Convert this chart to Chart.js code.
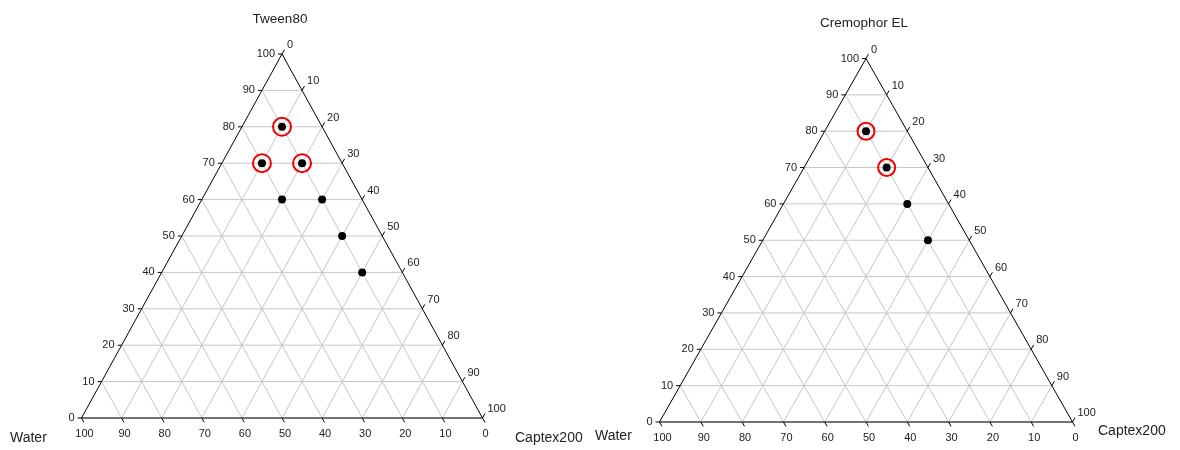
<!DOCTYPE html>
<html>
<head>
<meta charset="utf-8">
<title>Ternary phase diagrams</title>
<script src="https://cdn.jsdelivr.net/npm/chart.js@4.4.1/dist/chart.umd.min.js"></script>
<style>
  html, body { margin: 0; padding: 0; background: #fff; }
  #wrap { position: relative; width: 1180px; height: 450px; }
  canvas { position: absolute; top: 0; }
  #tween-chart { left: 0; }
  #cremophor-chart { left: 590px; }
</style>
</head>
<body>
<div id="wrap">
  <canvas id="tween-chart" width="590" height="450"></canvas>
  <canvas id="cremophor-chart" width="590" height="450"></canvas>
</div>
<script>
// axis ticks (%), same on all three sides
const tickValues = [0, 10, 20, 30, 40, 50, 60, 70, 80, 90, 100];
const gridValues = [10, 20, 30, 40, 50, 60, 70, 80, 90];

// Tween80 / Captex200 / Water (%)
const tweenSurfactant = [80, 70, 70, 60, 60, 50, 40];
const tweenOil        = [10, 10, 20, 20, 30, 40, 50];
const tweenWater      = [10, 20, 10, 20, 10, 10, 10];
const tweenCircled    = [0, 1, 2];

// Cremophor EL / Captex200 / Water (%)
const cremoSurfactant = [80, 70, 60, 50];
const cremoOil        = [10, 20, 30, 40];
const cremoWater      = [10, 10, 10, 10];
const cremoCircled    = [0, 1];

const FONT = '"Liberation Sans", Arial, sans-serif';
const TEXT = '#222';
const GRID = '#c6c6c6';

// surfactant on top corner, oil bottom right, water bottom left
function toXY(surf, oil) {
    return { x: oil + surf / 2, y: surf };
}

function lineSet(a, b, color, width, order) {
    return {
        data: [a, b],
        showLine: true,
        pointRadius: 0,
        borderColor: color,
        borderWidth: width,
        clip: false,
        order: order
    };
}

function buildDatasets(surf, oil, water, circled, ringSize) {
    const sets = [];
    gridValues.forEach(k => {
        // constant surfactant
        sets.push(lineSet(toXY(k, 0), toXY(k, 100 - k), GRID, 1, 5));
        // constant oil
        sets.push(lineSet(toXY(0, k), toXY(100 - k, k), GRID, 1, 5));
        // constant water
        sets.push(lineSet(toXY(0, 100 - k), toXY(100 - k, 0), GRID, 1, 5));
    });
    sets.push(lineSet(toXY(0, 0), toXY(100, 0), '#000', 1, 4));
    sets.push(lineSet(toXY(100, 0), toXY(0, 100), '#000', 1, 4));
    sets.push(lineSet(toXY(0, 0), toXY(0, 100), '#444', 1.6, 4));

    const pts = surf.map((s, i) => toXY(s, oil[i]));
    sets.push({
        data: pts,
        pointRadius: 4,
        pointBackgroundColor: '#000',
        pointBorderWidth: 0,
        clip: false,
        order: 2
    });
    sets.push({
        data: circled.map(i => pts[i]),
        pointRadius: ringSize,
        pointBackgroundColor: 'rgba(0,0,0,0)',
        pointBorderColor: '#ee0000',
        pointBorderWidth: 2,
        clip: false,
        order: 1
    });
    return sets;
}

const ternaryAxes = {
    id: 'ternaryAxes',
    afterDatasetsDraw(chart, args, opts) {
        const ctx = chart.ctx;
        const sx = chart.scales.x, sy = chart.scales.y;
        const px = (s, o) => {
            const p = toXY(s, o);
            return { x: sx.getPixelForValue(p.x), y: sy.getPixelForValue(p.y) };
        };
        const apex = px(100, 0), bl = px(0, 0), br = px(0, 100);
        const unit = (a, b) => {
            const dx = b.x - a.x, dy = b.y - a.y, l = Math.hypot(dx, dy);
            return { x: dx / l, y: dy / l };
        };
        const up = unit(bl, apex);
        const down = unit(apex, br);
        const t = 5;

        ctx.save();
        ctx.strokeStyle = '#000';
        ctx.lineWidth = 1;
        ctx.fillStyle = TEXT;
        ctx.font = '11px ' + FONT;
        ctx.textBaseline = 'middle';

        tickValues.forEach(v => {
            // left side: surfactant
            let p = px(v, 0);
            ctx.beginPath();
            ctx.moveTo(p.x, p.y);
            ctx.lineTo(p.x - 4, p.y);
            ctx.stroke();
            ctx.textAlign = 'right';
            ctx.fillText(String(v), p.x - 7, p.y);

            // right side: oil
            p = px(100 - v, v);
            ctx.beginPath();
            ctx.moveTo(p.x, p.y);
            ctx.lineTo(p.x + up.x * t, p.y + up.y * t);
            ctx.stroke();
            ctx.textAlign = 'left';
            ctx.fillText(String(v), p.x + 5, p.y - 9);

            // bottom: water
            p = px(0, 100 - v);
            ctx.beginPath();
            ctx.moveTo(p.x, p.y);
            ctx.lineTo(p.x + down.x * t, p.y + down.y * t);
            ctx.stroke();
            ctx.textAlign = 'center';
            ctx.fillText(String(v), p.x + 3, p.y + 16);
        });

        ctx.font = '13.5px ' + FONT;
        ctx.textAlign = 'center';
        ctx.fillText(opts.title, apex.x - 2, apex.y - 35);
        ctx.font = '14px ' + FONT;
        ctx.textAlign = 'left';
        ctx.fillText('Water', opts.waterPos[0], opts.waterPos[1]);
        ctx.fillText('Captex200', opts.oilPos[0], opts.oilPos[1]);
        ctx.restore();
    }
};

function makeChart(id, padding, datasets, labels) {
    return new Chart(document.getElementById(id), {
        type: 'scatter',
        data: { datasets: datasets },
        options: {
            responsive: false,
            animation: false,
            events: [],
            layout: { padding: padding },
            scales: {
                x: { type: 'linear', min: 0, max: 100, display: false },
                y: { type: 'linear', min: 0, max: 100, display: false }
            },
            plugins: {
                legend: { display: false },
                tooltip: { enabled: false },
                ternaryAxes: labels
            }
        },
        plugins: [ternaryAxes]
    });
}

makeChart('tween-chart',
    { left: 81.5, right: 107.5, top: 54, bottom: 32 },
    buildDatasets(tweenSurfactant, tweenOil, tweenWater, tweenCircled, 9),
    { title: 'Tween80', waterPos: [10, 438], oilPos: [515, 438] });

makeChart('cremophor-chart',
    { left: 69.5, right: 107.5, top: 58.5, bottom: 28 },
    buildDatasets(cremoSurfactant, cremoOil, cremoWater, cremoCircled, 8.5),
    { title: 'Cremophor EL', waterPos: [5, 436], oilPos: [508, 431] });
</script>
</body>
</html>
